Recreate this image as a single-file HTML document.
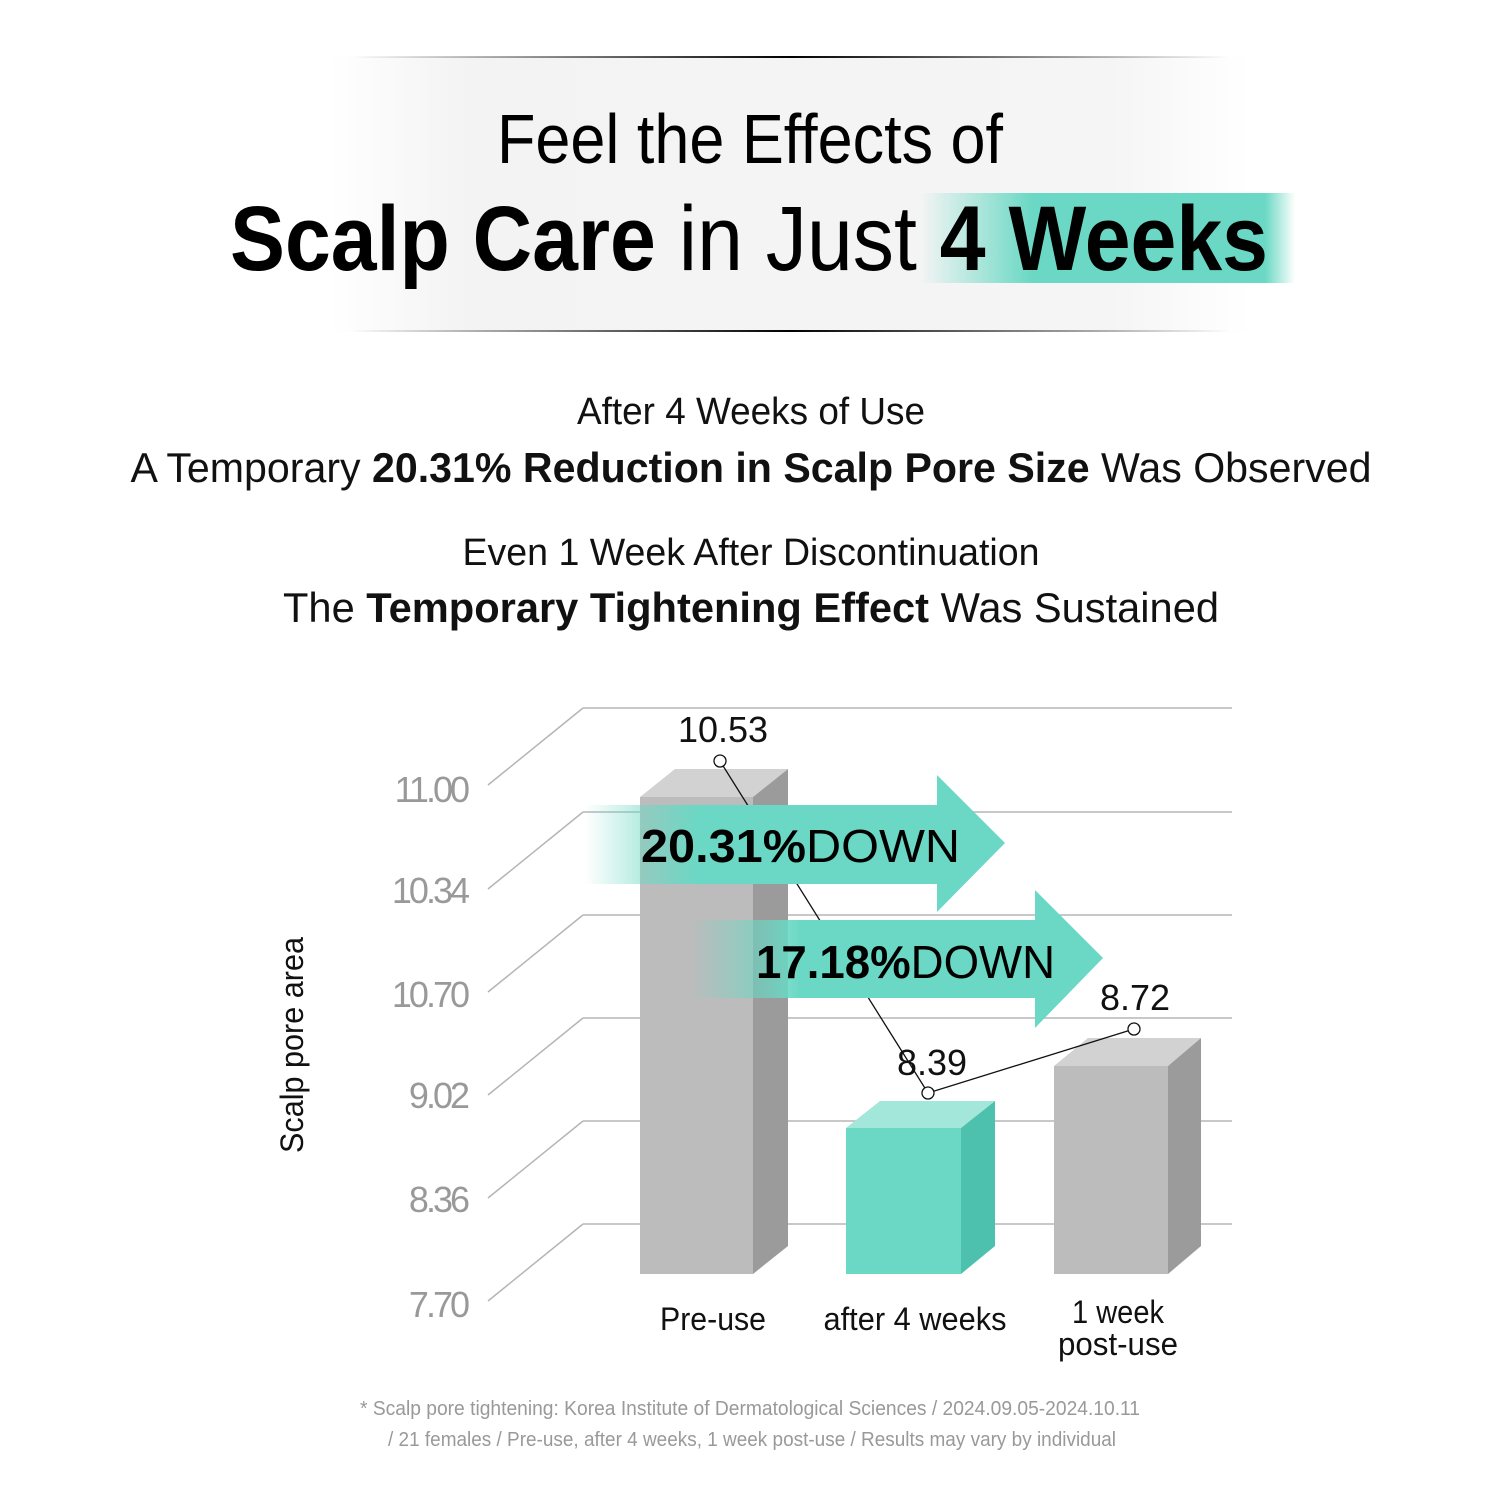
<!DOCTYPE html>
<html><head><meta charset="utf-8"><style>
html,body{margin:0;padding:0;background:#fff}
svg{display:block}
text{font-family:"Liberation Sans","Noto Sans CJK KR",sans-serif}
</style></head><body>
<svg width="1500" height="1500" viewBox="0 0 1500 1500" xmlns="http://www.w3.org/2000/svg">
<defs>
<linearGradient id="band" x1="0" x2="1" y1="0" y2="0">
<stop offset="0" stop-color="#f3f3f3" stop-opacity="0"/>
<stop offset="0.15" stop-color="#f3f3f3"/>
<stop offset="0.85" stop-color="#f5f5f5"/>
<stop offset="1" stop-color="#f5f5f5" stop-opacity="0"/>
</linearGradient>
<linearGradient id="line" x1="0" x2="1">
<stop offset="0" stop-color="#000" stop-opacity="0"/>
<stop offset="0.5" stop-color="#000"/>
<stop offset="1" stop-color="#000" stop-opacity="0"/>
</linearGradient>
<linearGradient id="hl" x1="0" x2="1">
<stop offset="0" stop-color="#6ad8c4" stop-opacity="0"/>
<stop offset="0.3" stop-color="#6ad8c4"/>
<stop offset="0.92" stop-color="#6ad8c4"/>
<stop offset="1" stop-color="#6ad8c4" stop-opacity="0"/>
</linearGradient>
<linearGradient id="ar1" gradientUnits="userSpaceOnUse" x1="585" x2="700">
<stop offset="0" stop-color="#6ad8c4" stop-opacity="0"/>
<stop offset="1" stop-color="#6ad8c4" stop-opacity="1"/>
</linearGradient>
<linearGradient id="ar2" gradientUnits="userSpaceOnUse" x1="690" x2="800">
<stop offset="0" stop-color="#6ad8c4" stop-opacity="0"/>
<stop offset="1" stop-color="#6ad8c4" stop-opacity="1"/>
</linearGradient>
</defs>
<rect x="330" y="57" width="920" height="275" fill="url(#band)"/>
<rect x="350" y="56" width="880" height="2" fill="url(#line)"/>
<rect x="350" y="330" width="880" height="2" fill="url(#line)"/>
<rect x="920" y="193" width="375" height="90" fill="url(#hl)"/>
<text x="750" y="163" font-size="70" text-anchor="middle" textLength="506" lengthAdjust="spacingAndGlyphs" fill="#000">Feel the Effects of</text>
<text x="230" y="270" font-size="92" textLength="1038" lengthAdjust="spacingAndGlyphs" fill="#000"><tspan font-weight="bold">Scalp Care</tspan> in Just <tspan font-weight="bold">4 Weeks</tspan></text>

<g fill="#111" text-anchor="middle">
<text x="751" y="424" font-size="38" textLength="348" lengthAdjust="spacingAndGlyphs">After 4 Weeks of Use</text>
<text x="751" y="482" font-size="42" textLength="1241" lengthAdjust="spacingAndGlyphs">A Temporary <tspan font-weight="bold">20.31% Reduction in Scalp Pore Size</tspan> Was Observed</text>
<text x="751" y="565" font-size="38" textLength="577" lengthAdjust="spacingAndGlyphs">Even 1 Week After Discontinuation</text>
<text x="751" y="622" font-size="42" textLength="936" lengthAdjust="spacingAndGlyphs">The <tspan font-weight="bold">Temporary Tightening Effect</tspan> Was Sustained</text>
</g>

<g stroke="#b5b5b5" stroke-width="1.5" fill="none">
<path d="M583 708H1232M583 708L488 785"/>
<path d="M583 812H1232M583 812L488 889"/>
<path d="M583 915H1232M583 915L488 992"/>
<path d="M583 1018H1232M583 1018L488 1095"/>
<path d="M583 1121H1232M583 1121L488 1198"/>
<path d="M583 1224H1232M583 1224L488 1301"/>
</g>
<g fill="#999" font-size="36" text-anchor="end" letter-spacing="-3">
<text x="467" y="802">11.00</text>
<text x="467" y="903">10.34</text>
<text x="467" y="1007">10.70</text>
<text x="467" y="1108">9.02</text>
<text x="467" y="1212">8.36</text>
<text x="467" y="1317">7.70</text>
</g>
<text transform="translate(303,1045) rotate(-90)" font-size="32" text-anchor="middle" textLength="216" lengthAdjust="spacingAndGlyphs" fill="#111">Scalp pore area</text>

<polygon points="640,797 675,769 788,769 753,797" fill="#d2d2d2"/>
<polygon points="753,797 788,769 788,1246 753,1274" fill="#9b9b9b"/>
<rect x="640" y="797" width="113" height="477" fill="#bcbcbc"/>

<polygon points="846,1128 880,1101 995,1101 961,1128" fill="#a3e6da"/>
<polygon points="961,1128 995,1101 995,1246 961,1274" fill="#4dc1ad"/>
<rect x="846" y="1128" width="115" height="146" fill="#6ad8c4"/>

<polygon points="1054,1066 1088,1038 1201,1038 1168,1066" fill="#d2d2d2"/>
<polygon points="1168,1066 1201,1038 1201,1246 1168,1274" fill="#9b9b9b"/>
<rect x="1054" y="1066" width="114" height="208" fill="#bcbcbc"/>

<polyline points="720,761 928,1093 1134,1029" fill="none" stroke="#111" stroke-width="1.3"/>

<polygon points="585,805 937,805 937,775 1005,843 937,912 937,884 585,884" fill="url(#ar1)"/>
<polygon points="690,920 1035,920 1035,890 1103,958 1035,1028 1035,998 690,998" fill="url(#ar2)"/>
<text x="641" y="862" font-size="46" fill="#000" textLength="319" lengthAdjust="spacingAndGlyphs"><tspan font-weight="bold">20.31%</tspan>DOWN</text>
<text x="756" y="978" font-size="46" fill="#000" textLength="299" lengthAdjust="spacingAndGlyphs"><tspan font-weight="bold">17.18%</tspan>DOWN</text>

<g fill="#fff" stroke="#111" stroke-width="1.3">
<circle cx="720" cy="761" r="6"/><circle cx="928" cy="1093" r="6"/><circle cx="1134" cy="1029" r="6"/>
</g>
<g fill="#111" font-size="36" text-anchor="middle">
<text x="723" y="742">10.53</text>
<text x="932" y="1075">8.39</text>
<text x="1135" y="1010">8.72</text>
</g>
<g fill="#111" font-size="32" text-anchor="middle">
<text x="713" y="1330" textLength="106" lengthAdjust="spacingAndGlyphs">Pre-use</text>
<text x="915" y="1330" textLength="183" lengthAdjust="spacingAndGlyphs">after 4 weeks</text>
<text x="1118" y="1323" textLength="92" lengthAdjust="spacingAndGlyphs">1 week</text>
<text x="1118" y="1355" textLength="120" lengthAdjust="spacingAndGlyphs">post-use</text>
</g>
<g fill="#999" font-size="20" text-anchor="middle">
<text x="750" y="1415" textLength="780" lengthAdjust="spacingAndGlyphs">* Scalp pore tightening: Korea Institute of Dermatological Sciences / 2024.09.05-2024.10.11</text>
<text x="752" y="1446" textLength="728" lengthAdjust="spacingAndGlyphs">/ 21 females / Pre-use, after 4 weeks, 1 week post-use / Results may vary by individual</text>
</g>
</svg>
</body></html>
